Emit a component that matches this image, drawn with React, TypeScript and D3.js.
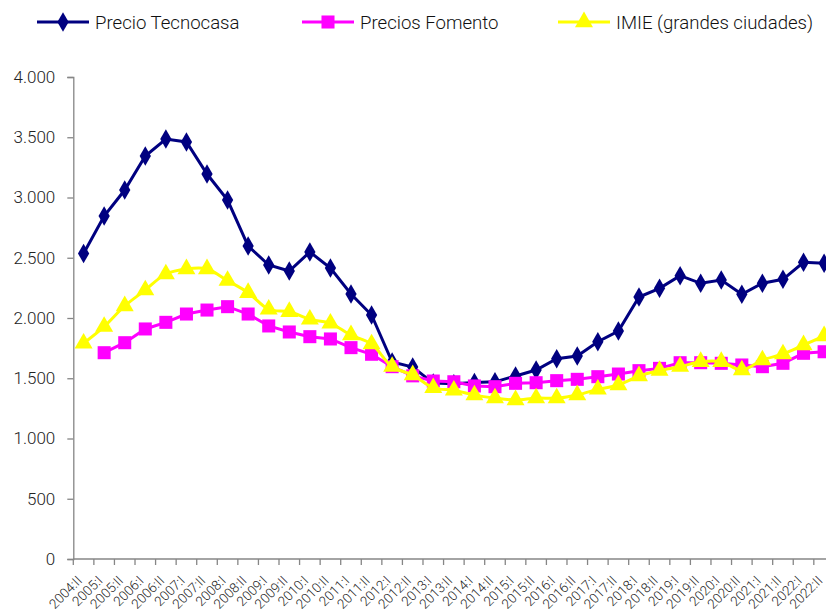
import React, { useEffect, useRef } from "react";
import * as d3 from "d3";

// quarters / semesters shown on the x axis
const periods = [
  "2004:II", "2005:I", "2005:II", "2006:I", "2006:II", "2007:I", "2007:II",
  "2008:I", "2008:II", "2009:I", "2009:II", "2010:I", "2010:II", "2011:I",
  "2011:II", "2012:I", "2012:II", "2013:I", "2013:II", "2014:I", "2014:II",
  "2015:I", "2015:II", "2016:I", "2016:II", "2017:I", "2017:II", "2018:I",
  "2018:II", "2019:I", "2019:II", "2020:I", "2020:II", "2021:I", "2021:II",
  "2022:I", "2022:II",
];

const tecnocasa = [
  2535, 2846, 3062, 3344, 3485, 3461, 3195, 2979, 2597, 2440, 2390, 2548,
  2415, 2199, 2025, 1635, 1593, 1460, 1455, 1465, 1470, 1519, 1568, 1662,
  1685, 1803, 1892, 2174, 2246, 2351, 2288, 2315, 2197, 2288, 2321, 2462,
  2455,
];

// Fomento has no value for 2004:II
const fomento = [
  null, 1712, 1795, 1909, 1964, 2033, 2066, 2094, 2033, 1934, 1884, 1845,
  1826, 1754, 1699, 1596, 1520, 1477, 1471, 1436, 1430, 1458, 1463, 1480,
  1491, 1513, 1535, 1563, 1582, 1629, 1629, 1624, 1610, 1596, 1624, 1707,
  1720,
];

const imie = [
  1790, 1928, 2100, 2232, 2365, 2407, 2407, 2310, 2210, 2072, 2052, 1989,
  1956, 1859, 1784, 1596, 1527, 1420, 1400, 1360, 1335, 1320, 1335, 1335,
  1361, 1408, 1444, 1519, 1563, 1596, 1637, 1637, 1568, 1651, 1701, 1776,
  1851,
];

const yTicks = [0, 500, 1000, 1500, 2000, 2500, 3000, 3500, 4000];

const seriesNames = ["Precio Tecnocasa", "Precios Fomento", "IMIE (grandes ciudades)"];

const App = () => {
  const ref = useRef<SVGSVGElement>(null);

  useEffect(() => {
    const svg = d3.select(ref.current);
    svg.selectAll("*").remove();

    const font = "Roboto, 'Noto Sans', sans-serif";
    const left = 73.3;
    const bw = 20.57;

    const x = d3.scaleBand<string>().domain(periods).range([left, left + bw * periods.length]).padding(0);
    const y = d3.scaleLinear().domain([0, 4000]).range([559, 77]);
    const cx = (p: string) => (x(p) as number) + x.bandwidth() / 2;

    // y axis
    const yAxis = svg.append("g")
      .attr("transform", `translate(${left},0)`)
      .call(d3.axisLeft(y).tickValues(yTicks).tickSize(6).tickFormat((d) => d3.format(",")(d as number).replace(/,/g, ".")));
    yAxis.select(".domain").attr("stroke", "#868686").attr("stroke-width", 1.3);
    yAxis.selectAll(".tick line").attr("stroke", "#868686").attr("stroke-width", 1.3);
    yAxis.selectAll(".tick text")
      .attr("x", -18)
      .attr("fill", "#222")
      .style("font-family", font)
      .style("font-weight", 300)
      .style("font-size", "17px");

    // x axis: ticks between categories
    const xg = svg.append("g");
    xg.append("line")
      .attr("x1", left).attr("x2", 826)
      .attr("y1", 559).attr("y2", 559)
      .attr("stroke", "#868686").attr("stroke-width", 1.3);
    xg.selectAll("line.tk")
      .data(periods.concat(["end"]))
      .enter()
      .append("line")
      .attr("class", "tk")
      .attr("x1", (_, i) => left + i * bw)
      .attr("x2", (_, i) => left + i * bw)
      .attr("y1", 559).attr("y2", 565)
      .attr("stroke", "#868686").attr("stroke-width", 1.3);
    xg.selectAll("text")
      .data(periods)
      .enter()
      .append("text")
      .attr("transform", (d) => `translate(${cx(d) - 4},${578}) rotate(-45)`)
      .attr("text-anchor", "end")
      .attr("dy", "0.35em")
      .attr("fill", "#222")
      .style("font-family", font)
      .style("font-weight", 300)
      .style("font-size", "13.5px")
      .text((d) => d);

    const lineFor = (vals: (number | null)[], curve: d3.CurveFactory) =>
      d3.line<number | null>()
        .defined((d) => d !== null)
        .x((_, i) => cx(periods[i]))
        .y((d) => y(d as number))
        .curve(curve)(vals);

    const diamond = d3.symbol().type(d3.symbolDiamond).size(110);
    const square = d3.symbol().type(d3.symbolSquare).size(170);
    const triangle = d3.symbol().type(d3.symbolTriangle).size(140);

    const drawSeries = (vals: (number | null)[], color: string, sym: d3.Symbol<any, any>, curve: d3.CurveFactory) => {
      const g = svg.append("g");
      g.append("path")
        .attr("d", lineFor(vals, curve))
        .attr("fill", "none")
        .attr("stroke", color)
        .attr("stroke-width", 3);
      g.selectAll("path.m")
        .data(vals.map((v, i) => ({ v, p: periods[i] })).filter((d) => d.v !== null))
        .enter()
        .append("path")
        .attr("class", "m")
        .attr("d", sym as any)
        .attr("transform", (d) => `translate(${cx(d.p)},${y(d.v as number)})`)
        .attr("fill", color);
    };

    drawSeries(tecnocasa, "#000080", diamond, d3.curveLinear);
    drawSeries(fomento, "#FF00FF", square, d3.curveLinear);
    drawSeries(imie, "#FFFF00", triangle, d3.curveCatmullRom.alpha(0.5));

    // legend
    const legend = [
      { name: seriesNames[0], color: "#000080", sym: diamond, x: 37 },
      { name: seriesNames[1], color: "#FF00FF", sym: square, x: 302 },
      { name: seriesNames[2], color: "#FFFF00", sym: triangle, x: 558 },
    ];
    const lg = svg.append("g");
    legend.forEach((l) => {
      lg.append("line")
        .attr("x1", l.x).attr("x2", l.x + 52)
        .attr("y1", 22).attr("y2", 22)
        .attr("stroke", l.color).attr("stroke-width", 3);
      lg.append("path")
        .attr("d", l.sym as any)
        .attr("transform", `translate(${l.x + 26},22)`)
        .attr("fill", l.color);
      lg.append("text")
        .attr("x", l.x + 58)
        .attr("y", 22)
        .attr("dy", "0.35em")
        .attr("fill", "#111")
        .style("font-family", font)
        .style("font-weight", 300)
        .style("font-size", "18.6px")
        .text(l.name);
    });
  }, []);

  return (
    <svg
      ref={ref}
      width={826}
      height={612}
      style={{ position: "absolute", left: 0, top: 0, background: "#fff" }}
    />
  );
};

export default App;
